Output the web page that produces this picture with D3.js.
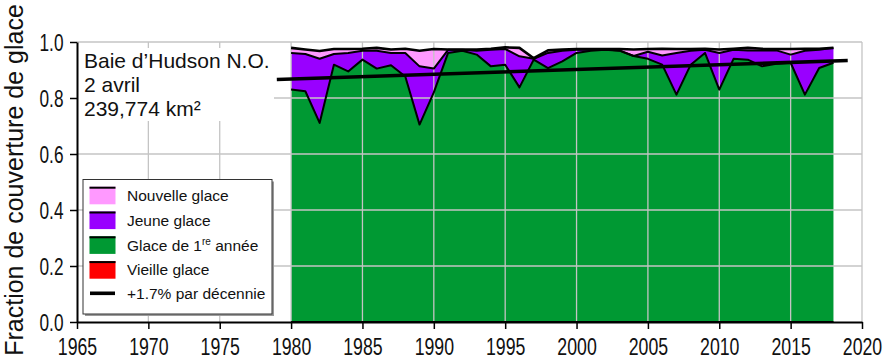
<!DOCTYPE html>
<html>
<head>
<meta charset="utf-8">
<script src="https://cdn.jsdelivr.net/npm/d3@7"></script>
<style>
  body { margin: 0; background: #fff; }
  svg { display: block; font-family: "Liberation Sans", Arial, sans-serif; }
</style>
</head>
<body>
<svg id="chart" width="891" height="358"></svg>
<script>
      const years = [1980, 1981, 1982, 1983, 1984, 1985, 1986, 1987, 1988, 1989,
        1990, 1991, 1992, 1993, 1994, 1995, 1996, 1997, 1998, 1999,
        2000, 2001, 2002, 2003, 2004, 2005, 2006, 2007, 2008, 2009,
        2010, 2011, 2012, 2013, 2014, 2015, 2016, 2017, 2018];
      const oldIce = [0, 0, 0, 0, 0, 0, 0, 0, 0, 0,
        0, 0, 0, 0, 0, 0, 0, 0, 0, 0,
        0, 0, 0, 0, 0, 0, 0, 0, 0, 0,
        0, 0, 0, 0, 0, 0, 0, 0, 0];
      const firstYearIce = [0.830, 0.824, 0.711, 0.919, 0.895, 0.937, 0.905, 0.917, 0.877, 0.705,
        0.820, 0.961, 0.969, 0.955, 0.913, 0.919, 0.838, 0.937, 0.907, 0.931,
        0.961, 0.969, 0.972, 0.969, 0.950, 0.940, 0.919, 0.812, 0.919, 0.961,
        0.830, 0.940, 0.937, 0.913, 0.922, 0.926, 0.812, 0.907, 0.926];
      const youngIce = [0.131, 0.133, 0.229, 0.038, 0.066, 0.032, 0.064, 0.044, 0.084, 0.208,
        0.085, 0.011, 0.003, 0.014, 0.059, 0.056, 0.111, 0.003, 0.054, 0.038,
        0.011, 0.003, 0.001, 0.001, 0.000, 0.025, 0.033, 0.149, 0.050, 0.011,
        0.131, 0.032, 0.033, 0.057, 0.048, 0.029, 0.157, 0.065, 0.053];
      const newIce = [0.018, 0.016, 0.028, 0.018, 0.014, 0.007, 0.010, 0.012, 0.015, 0.056,
        0.070, 0.001, 0.001, 0.004, 0.004, 0.006, 0.030, 0.002, 0.009, 0.004,
        0.003, 0.003, 0.002, 0.005, 0.023, 0.010, 0.024, 0.014, 0.006, 0.004,
        0.012, 0.004, 0.009, 0.006, 0.005, 0.020, 0.007, 0.004, 0.000];
      const trendYears = [1979, 2019];
      const trendValues = [0.866, 0.934];
      const xTicks = [1965, 1970, 1975, 1980, 1985, 1990, 1995, 2000, 2005, 2010, 2015, 2020];
      const yTicks = [0, 0.2, 0.4, 0.6, 0.8, 1.0];

      const seriesKeys = ["old", "firstYear", "young", "new"];
      const seriesColors = { old: "#ff0000", firstYear: "#009933", young: "#9900ff", new: "#ff99ff" };
      const legendItems = [
        { key: "new", label: "Nouvelle glace" },
        { key: "young", label: "Jeune glace" },
        { key: "firstYear", label: "Glace de 1", sup: "re", after: " année" },
        { key: "old", label: "Vieille glace" },
      ];

      const margin = { left: 77, right: 29, top: 42, bottom: 36 };
      const width = 891, height = 358;
      const svg = d3.select("#chart");

      const x = d3.scaleLinear().domain([1965, 2020]).range([margin.left, width - margin.right]);
      const y = d3.scaleLinear().domain([0, 1]).range([height - margin.bottom, margin.top]);

      const rows = years.map((year, i) => ({
        year,
        old: oldIce[i],
        firstYear: firstYearIce[i],
        young: youngIce[i],
        new: newIce[i],
      }));
      const stacked = d3.stack().keys(seriesKeys)(rows);

      const area = d3.area().x((d) => x(d.data.year)).y0((d) => y(d[0])).y1((d) => y(d[1]));
      const topLine = d3.line().x((d) => x(d.data.year)).y((d) => y(d[1]));

      svg.append("g").selectAll("path")
        .data(stacked)
        .join("path")
        .attr("fill", (s) => seriesColors[s.key])
        .attr("d", area);

      // grid drawn over the fills, like the original
      const grid = svg.append("g").attr("stroke", "#c4c4c4").attr("stroke-width", 1.3);
      grid.selectAll("line.v")
        .data(xTicks.slice(1))
        .join("line")
        .attr("x1", (d) => x(d)).attr("x2", (d) => x(d))
        .attr("y1", y(0)).attr("y2", y(1));
      grid.selectAll("line.h")
        .data(yTicks.slice(1))
        .join("line")
        .attr("x1", x(1965)).attr("x2", x(2020))
        .attr("y1", (d) => y(d)).attr("y2", (d) => y(d));

      svg.append("g").selectAll("path")
        .data(stacked)
        .join("path")
        .attr("fill", "none")
        .attr("stroke", "#000")
        .attr("stroke-width", (s) => s.key === "new" ? 2.6 : 2)
        .attr("stroke-linejoin", "round")
        .attr("d", topLine);

      svg.append("line")
        .attr("x1", x(trendYears[0])).attr("y1", y(trendValues[0]))
        .attr("x2", x(trendYears[1])).attr("y2", y(trendValues[1]))
        .attr("stroke", "#000").attr("stroke-width", 3.6);

      // label box
      svg.append("rect")
        .attr("x", 78).attr("y", 48).attr("width", 196).attr("height", 73)
        .attr("fill", "#fff");
      const info = svg.append("g").attr("font-size", 21).attr("fill", "#111");
      info.append("text").attr("x", 84).attr("y", 68).text("Baie d\u2019Hudson N.O.");
      info.append("text").attr("x", 84).attr("y", 92).text("2 avril");
      info.append("text").attr("x", 84).attr("y", 115.5).text("239,774 km\u00b2");

      // legend
      const legend = svg.append("g");
      legend.append("rect")
        .attr("x", 85).attr("y", 181.5).attr("width", 189).attr("height", 134.5)
        .attr("fill", "#9a9a9a");
      legend.append("rect")
        .attr("x", 83).attr("y", 179.5).attr("width", 189).attr("height", 134.5)
        .attr("fill", "#fff").attr("stroke", "#333").attr("stroke-width", 1);
      legendItems.forEach((item, i) => {
        const top = 186.7 + i * 24.8;
        legend.append("rect")
          .attr("x", 89.5).attr("y", top).attr("width", 26).attr("height", 17.6)
          .attr("fill", seriesColors[item.key]);
        legend.append("line")
          .attr("x1", 89.5).attr("x2", 115.5).attr("y1", top + 1).attr("y2", top + 1)
          .attr("stroke", "#000").attr("stroke-width", 2);
        const t = legend.append("text")
          .attr("x", 127).attr("y", 200.7 + i * 24.9)
          .attr("font-size", 15.5).attr("fill", "#111")
          .text(item.label);
        if (item.sup) {
          t.append("tspan").attr("font-size", 10).attr("dy", -6).text(item.sup);
          t.append("tspan").attr("dy", 6).text(item.after);
        }
      });
      legend.append("line")
        .attr("x1", 90).attr("x2", 115).attr("y1", 293.3).attr("y2", 293.3)
        .attr("stroke", "#000").attr("stroke-width", 3.6);
      legend.append("text")
        .attr("x", 127).attr("y", 298.5)
        .attr("font-size", 15.5).attr("fill", "#111")
        .text("+1.7% par d\u00e9cennie");

      // axes
      const xAxis = svg.append("g")
        .attr("transform", `translate(0,${y(0)})`)
        .call(d3.axisBottom(x).tickValues(xTicks).tickSize(7).tickSizeOuter(0).tickFormat(""));
      xAxis.selectAll("text").remove();
      xAxis.selectAll(".tick").append("text")
        .attr("transform", "translate(0,33) scale(0.77,1)")
        .attr("text-anchor", "middle")
        .attr("font-size", 23).attr("fill", "#111")
        .text((d) => d);

      const yAxis = svg.append("g")
        .attr("transform", `translate(${x(1965)},0)`)
        .call(d3.axisLeft(y).tickValues(yTicks).tickSize(7).tickSizeOuter(0).tickFormat(""));
      yAxis.selectAll("text").remove();
      yAxis.selectAll(".tick").append("text")
        .attr("transform", "translate(-13.5,8.3) scale(0.75,1)")
        .attr("text-anchor", "end")
        .attr("font-size", 23).attr("fill", "#111")
        .text((d) => d3.format(".1f")(d));

      [xAxis, yAxis].forEach((axis) => {
        axis.select(".domain").attr("stroke", "#000").attr("stroke-width", 2);
        axis.selectAll(".tick line").attr("stroke", "#000").attr("stroke-width", 1.5);
      });

      svg.append("text")
        .attr("transform", "translate(23,180) rotate(-90)")
        .attr("text-anchor", "middle")
        .attr("font-size", 25).attr("fill", "#111")
        .text("Fraction de couverture de glace");
</script>
</body>
</html>
